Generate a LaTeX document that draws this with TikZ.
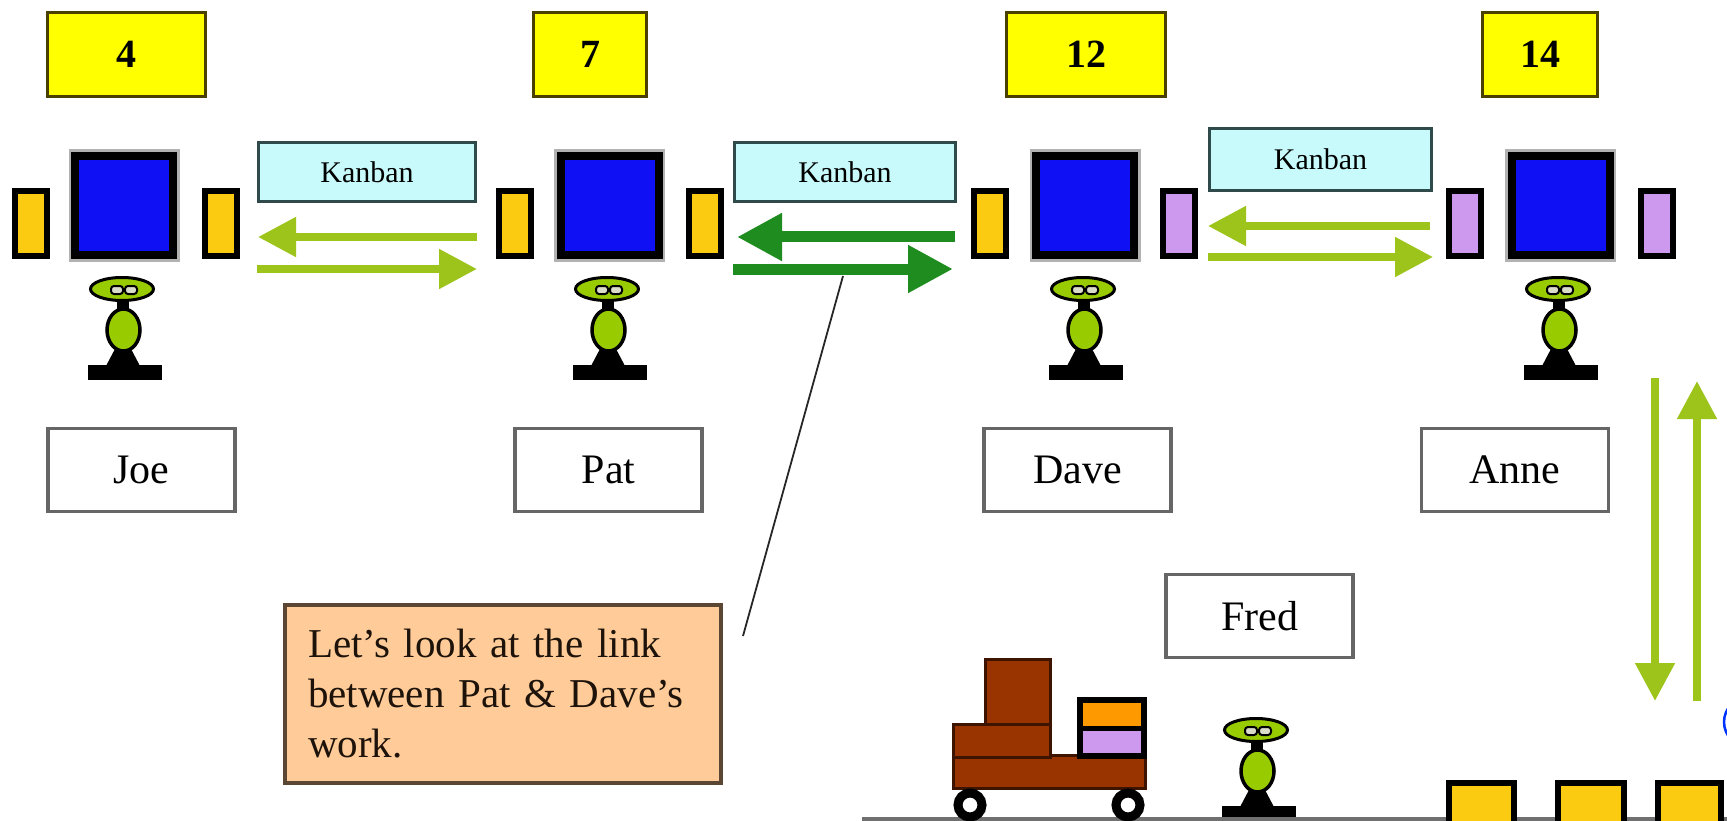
\documentclass[tikz,border=0pt]{standalone}
\usepackage{fontspec}
\setmainfont{Liberation Serif}
\usetikzlibrary{arrows.meta}

\definecolor{numyellow}{HTML}{FFFF00}
\definecolor{numedge}{HTML}{4A4000}
\definecolor{stationblue}{HTML}{1010F4}
\definecolor{bufgold}{HTML}{FACB10}
\definecolor{bufviolet}{HTML}{CC99EE}
\definecolor{kanbancyan}{HTML}{C8FAFC}
\definecolor{kanbanedge}{HTML}{2E4A4A}
\definecolor{nameedge}{HTML}{666666}
\definecolor{notefill}{HTML}{FFCC99}
\definecolor{noteedge}{HTML}{5A4632}
\definecolor{lightflow}{HTML}{9CC41A}
\definecolor{darkflow}{HTML}{1E8C1E}
\definecolor{figgreen}{HTML}{99CC00}
\definecolor{eyegray}{HTML}{D8DCC8}
\definecolor{cartbrown}{HTML}{993300}
\definecolor{cartedge}{HTML}{3C1400}
\definecolor{cargoorange}{HTML}{FF9900}
\definecolor{groundgray}{HTML}{707070}

\begin{document}
\begin{tikzpicture}[x=1pt,y=-1pt,
  box/.style={rectangle, inner sep=0pt, outer sep=0pt},
  numbox/.style={box, fill=numyellow, draw=numedge, line width=3pt,
    minimum height=84pt, font=\fontsize{40}{48}\selectfont\bfseries},
  station/.style={box, fill=stationblue, draw=black, line width=8pt,
    minimum width=98pt, minimum height=99pt,
    preaction={draw=black!30, line width=13pt}},
  buffer/.style={box, draw=black, line width=6pt,
    minimum width=32pt, minimum height=65pt},
  kanban/.style={box, fill=kanbancyan, draw=kanbanedge, line width=3pt,
    font=\fontsize{30}{32}\selectfont},
  namebox/.style={box, fill=white, draw=nameedge, line width=3.5pt,
    minimum width=187pt, minimum height=83pt,
    font=\fontsize{42}{48}\selectfont},
  note/.style={box, fill=notefill, draw=noteedge, line width=3.5pt,
    minimum width=436pt, minimum height=178pt, text width=390pt,
    align=left, inner xsep=23pt, text=black!85!brown,
    font=\fontsize{41}{50}\selectfont},
  lightarrow/.style={draw=lightflow, line width=8pt,
    -{Triangle[length=38pt,width=38pt]}},
  darkarrow/.style={draw=darkflow, line width=11pt,
    -{Triangle[length=45pt,width=45pt]}},
  pointer/.style={draw=black!85, line width=1.8pt},
  cartpart/.style={fill=cartbrown, draw=cartedge, line width=3pt},
  lowbuffer/.style={fill=bufgold, draw=black, line width=6pt},
  worker/.pic={
    % stand and base
    \fill[black] (-34,76) rectangle (40,91);
    \fill[black] (-6,58) -- (8,58) -- (18,77) -- (-16,77) -- cycle;
    % neck
    \fill[black] (-5,9) rectangle (7,22);
    % body
    \filldraw[fill=figgreen, draw=black, line width=3.5pt]
      (1.5,41) ellipse [x radius=16.5, y radius=21];
    % head with eyes
    \filldraw[fill=figgreen, draw=black, line width=3pt]
      (0,0) ellipse [x radius=31.5, y radius=11.5];
    \filldraw[fill=eyegray, draw=black, line width=2pt, rounded corners=3pt]
      (-11,-3) rectangle (1,5);
    \filldraw[fill=eyegray, draw=black, line width=2pt, rounded corners=3pt]
      (3,-3) rectangle (15,5);
  }
]
\clip (0,0) rectangle (1727,821);
\fill[white] (0,0) rectangle (1727,821);

% cycle-time boxes
\node[numbox, minimum width=158pt] (num4)  at (126.5,54.5) {4};
\node[numbox, minimum width=113pt] (num7)  at (590,54.5)   {7};
\node[numbox, minimum width=159pt] (num12) at (1086,54.5)  {12};
\node[numbox, minimum width=115pt] (num14) at (1540,54.5)  {14};

% work stations with in/out buffers
\node[station] (joeSt)  at (124,205.5)    {};
\node[station] (patSt)  at (609.5,205.5)  {};
\node[station] (daveSt) at (1085,205.5)   {};
\node[station] (anneSt) at (1560.5,205.5) {};

\node[buffer, fill=bufgold]   (joeIn)   at (31,223.5)     {};
\node[buffer, fill=bufgold]   (joeOut)  at (220.5,223.5)  {};
\node[buffer, fill=bufgold]   (patIn)   at (515,223.5)    {};
\node[buffer, fill=bufgold]   (patOut)  at (704.5,223.5)  {};
\node[buffer, fill=bufgold]   (daveIn)  at (989.5,223.5)  {};
\node[buffer, fill=bufviolet] (daveOut) at (1179,223.5)   {};
\node[buffer, fill=bufviolet] (anneIn)  at (1465,223.5)   {};
\node[buffer, fill=bufviolet] (anneOut) at (1656.5,223.5) {};

% kanban labels
\node[kanban, minimum width=217pt, minimum height=59pt] (kb1) at (367,172)     {Kanban};
\node[kanban, minimum width=221pt, minimum height=59pt] (kb2) at (845,172)     {Kanban};
\node[kanban, minimum width=222pt, minimum height=62pt] (kb3) at (1320.5,159.5) {Kanban};

% signal and material flow between stations
\coordinate (f1a) at (477,237);  \coordinate (f1b) at (258,237);
\coordinate (f1c) at (257,269);  \coordinate (f1d) at (477,269);
\coordinate (f2a) at (955,237);  \coordinate (f2b) at (737,237);
\coordinate (f2c) at (733,269);  \coordinate (f2d) at (953,269);
\coordinate (f3a) at (1430,226); \coordinate (f3b) at (1208,226);
\coordinate (f3c) at (1208,257); \coordinate (f3d) at (1433,257);
\draw[lightarrow] (f1a) -- (f1b);
\draw[lightarrow] (f1c) -- (f1d);
\draw[darkarrow]  (f2a) -- (f2b);
\draw[darkarrow]  (f2c) -- (f2d);
\draw[lightarrow] (f3a) -- (f3b);
\draw[lightarrow] (f3c) -- (f3d);

% vertical flow to the delivery line
\coordinate (v1a) at (1655,378); \coordinate (v1b) at (1655,701);
\coordinate (v2a) at (1697,701); \coordinate (v2b) at (1697,381);
\draw[lightarrow] (v1a) -- (v1b);
\draw[lightarrow] (v2a) -- (v2b);

% operators
\pic at (122,289)  {worker};
\pic at (607,289)  {worker};
\pic at (1083,289) {worker};
\pic at (1558,289) {worker};
\pic at (1256,730) {worker};

% name tags
\node[namebox] (joeName)  at (141.5,470)  {Joe};
\node[namebox] (patName)  at (608.5,470)  {Pat};
\node[namebox] (daveName) at (1077.5,470) {Dave};
\node[namebox] (anneName) at (1515,470)   {Anne};
\node[namebox] (fredName) at (1259.5,616) {Fred};

% remark with its pointer
\node[note] (remark) at (503,694)
  {Let’s look at the link\\between Pat \& Dave’s\\work.};
\coordinate (ptrFoot) at (743,636);
\coordinate (ptrTip)  at (843,276);
\draw[pointer] (ptrFoot) -- (ptrTip);

% ground line
\draw[groundgray, line width=4pt] (862,819) -- (1727,819);

% hand cart
\filldraw[cartpart] (953,755) rectangle (1145,788);
\filldraw[cartpart] (953,724) rectangle (1050,757);
\filldraw[cartpart] (985,659) rectangle (1050,724);
\fill[cargoorange] (1077,697) rectangle (1147,728);
\fill[bufviolet]   (1077,728) rectangle (1147,759);
\draw[black, line width=6pt] (1080,700) rectangle (1144,756);
\draw[black, line width=5pt] (1080,728) -- (1144,728);
\filldraw[fill=white, draw=black, line width=9pt] (970,805) circle [radius=12];
\filldraw[fill=white, draw=black, line width=9pt] (1128,805) circle [radius=12];

% finished goods at the end of the line
\filldraw[lowbuffer] (1449,783) rectangle (1514,830);
\filldraw[lowbuffer] (1558,783) rectangle (1624,830);
\filldraw[lowbuffer] (1658,783) rectangle (1721,830);

% edge of a shape beyond the frame
\draw[blue!80!cyan, line width=2.5pt] (1749,722) circle [radius=25];
\end{tikzpicture}
\end{document}
